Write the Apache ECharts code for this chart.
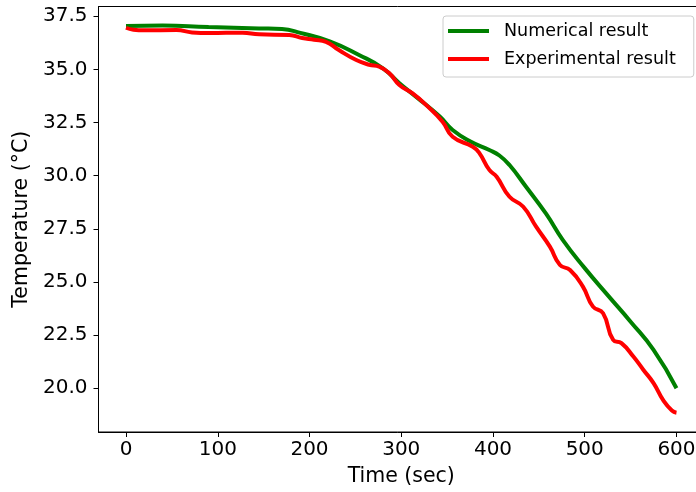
<!DOCTYPE html>
<html>
<head>
<meta charset="utf-8">
<script src="https://cdn.jsdelivr.net/npm/echarts@6/dist/echarts.min.js"></script>
<style>
  html, body { margin: 0; padding: 0; background: #fff; }
  #chart { width: 696px; height: 492px; }
</style>
</head>
<body>
<div id="chart"></div>
<script>
// 数据
const numTime = [0, 40, 90, 145, 170, 190, 222, 254, 280, 298, 316, 342, 356, 376, 396, 407, 418, 436, 458, 476, 500, 525, 550, 575, 600];
const numTemp = [37.04, 37.07, 36.99, 36.93, 36.9, 36.72, 36.32, 35.68, 35.05, 34.35, 33.72, 32.78, 32.15, 31.6, 31.21, 30.95, 30.5, 29.48, 28.2, 26.98, 25.65, 24.38, 23.13, 21.8, 20.0];

const expTime = [0, 8, 20, 55, 72, 91, 127, 145, 178, 192, 205, 218, 232, 251, 265, 276, 287, 298, 312, 327, 345, 356, 378, 385, 396, 404, 418, 433, 447, 462, 473, 484, 498, 509, 520, 531, 540, 553, 564, 575, 586, 595, 600];
const expTemp = [36.96, 36.87, 36.84, 36.85, 36.74, 36.71, 36.73, 36.65, 36.62, 36.48, 36.4, 36.3, 35.91, 35.44, 35.22, 35.13, 34.82, 34.27, 33.88, 33.33, 32.54, 31.83, 31.36, 31.07, 30.27, 29.95, 29.01, 28.54, 27.6, 26.66, 25.8, 25.56, 24.78, 23.84, 23.53, 22.27, 22.12, 21.49, 20.86, 20.24, 19.4, 18.95, 18.85];

const xTicks = [0, 100, 200, 300, 400, 500, 600];
const yTicks = [20.0, 22.5, 25.0, 27.5, 30.0, 32.5, 35.0, 37.5];

const font = 'DejaVu Sans';

const chart = echarts.init(document.getElementById('chart'));

const option = {
    animation: false,
    backgroundColor: '#fff',
    grid: {
        left: 98.5,
        top: 6.5,
        right: -8,
        bottom: 60,
        show: true,
        borderColor: '#000',
        borderWidth: 1,
        containLabel: false,
        outerBoundsMode: 'none'
    },
    legend: {
        orient: 'vertical',
        left: 443,
        top: 16,
        padding: [5, 18, 8, 5],
        itemGap: 8,
        itemWidth: 41,
        itemHeight: 4,
        icon: 'rect',
        backgroundColor: '#fff',
        borderColor: '#cccccc',
        borderWidth: 1,
        borderRadius: 3,
        textStyle: {
            fontFamily: font,
            fontSize: 17.5,
            color: '#000',
            lineHeight: 20,
            padding: [0, 0, 0, 10]
        },
        data: ['Numerical result', 'Experimental result']
    },
    xAxis: {
        type: 'value',
        min: -30,
        max: 630,
        name: 'Time (sec)',
        nameLocation: 'middle',
        nameGap: 34,
        nameTextStyle: { fontFamily: font, fontSize: 20.5, color: '#000' },
        axisLine: { show: true, onZero: false, lineStyle: { color: '#000', width: 1 } },
        axisTick: { show: true, length: 5, lineStyle: { color: '#000', width: 1 }, customValues: xTicks },
        axisLabel: {
            fontFamily: font, fontSize: 20, color: '#000', margin: 8,
            customValues: xTicks,
            formatter: v => String(v)
        },
        splitLine: { show: false }
    },
    yAxis: {
        type: 'value',
        min: 17.94,
        max: 37.96,
        name: 'Temperature (°C)',
        nameLocation: 'middle',
        nameGap: 61,
        nameTextStyle: { fontFamily: font, fontSize: 20.5, color: '#000' },
        axisLine: { show: true, onZero: false, lineStyle: { color: '#000', width: 1 } },
        axisTick: { show: true, length: 5, lineStyle: { color: '#000', width: 1 }, customValues: yTicks },
        axisLabel: {
            fontFamily: font, fontSize: 20, color: '#000', margin: 11,
            customValues: yTicks,
            formatter: v => v.toFixed(1)
        },
        splitLine: { show: false }
    },
    series: [
        {
            name: 'Numerical result',
            type: 'line',
            data: numTime.map((t, i) => [t, numTemp[i]]),
            showSymbol: false,
            smooth: 0.5,
            lineStyle: { color: '#008000', width: 4 },
            itemStyle: { color: '#008000' },
            z: 2
        },
        {
            name: 'Experimental result',
            type: 'line',
            data: expTime.map((t, i) => [t, expTemp[i]]),
            showSymbol: false,
            smooth: 0.5,
            lineStyle: { color: '#ff0000', width: 4 },
            itemStyle: { color: '#ff0000' },
            z: 3
        }
    ]
};

chart.setOption(option);
</script>
</body>
</html>
